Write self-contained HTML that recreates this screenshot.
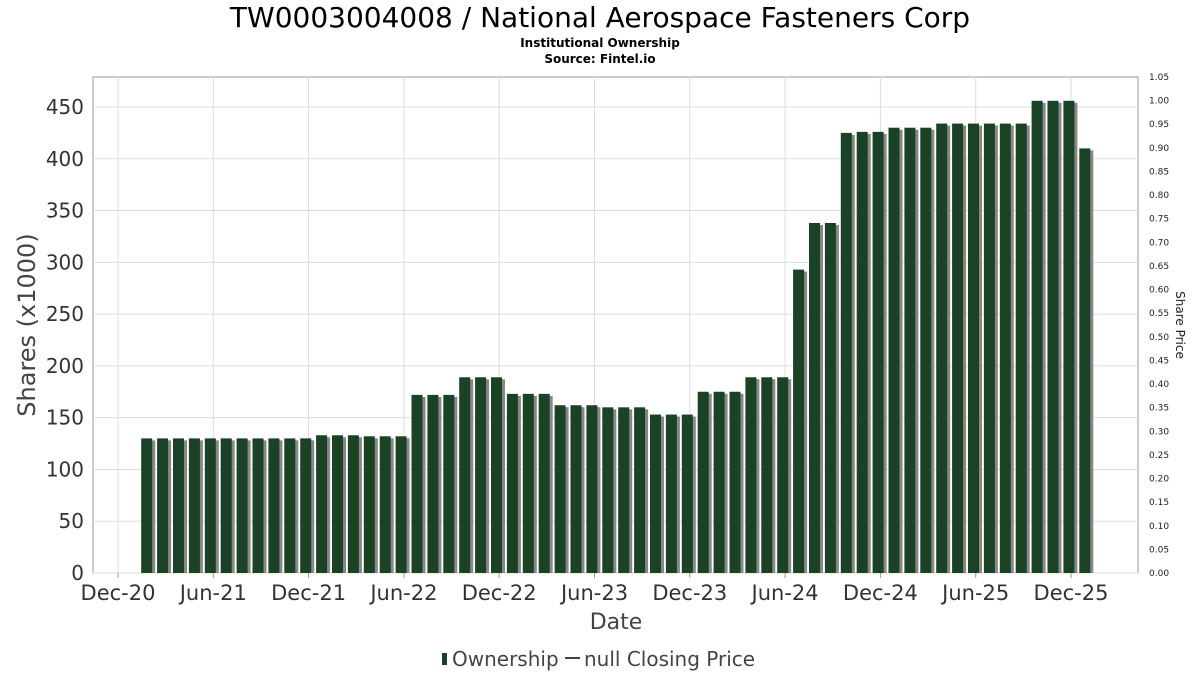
<!DOCTYPE html>
<html><head><meta charset="utf-8"><style>
body{margin:0;background:#fff;font-family:"DejaVu Sans","Liberation Sans",sans-serif}
svg{display:block}
</style></head><body>
<svg width="1200" height="675" id="c">
<text x="600" y="27" text-anchor="middle" font-size="28" fill="#000">TW0003004008 / National Aerospace Fasteners Corp</text>
<text x="600" y="47" text-anchor="middle" font-size="12" font-weight="bold">Institutional Ownership</text>
<text x="600" y="63" text-anchor="middle" font-size="12" font-weight="bold">Source: Fintel.io</text>
<rect x="93" y="77" width="1045" height="496" fill="#fff" stroke="#999"/>
<g id="grid"></g><g id="bars"></g><g id="axes"></g>
<text transform="translate(35,325) rotate(-90)" text-anchor="middle" font-size="24" fill="#444">Shares (x1000)</text>
<text transform="translate(1176,325) rotate(90)" text-anchor="middle" font-size="12" fill="#222">Share Price</text>
<text x="616" y="629" text-anchor="middle" font-size="22" fill="#444">Date</text>
<g>
<rect x="442" y="653" width="5" height="12" fill="#1a4224"/>
<text x="452" y="666" font-size="20" fill="#444">Ownership</text>
<line x1="565" y1="658" x2="580" y2="658" stroke="#444" stroke-width="2"/>
<text x="584" y="666" font-size="20" fill="#444">null Closing Price</text>
</g>
</svg>
<script>
const values=[130,130,130,130,130,130,130,130,130,130,130,133,133,133,132,132,132,172,172,172,189,189,189,173,173,173,162,162,162,160,160,160,153,153,153,175,175,175,189,189,189,293,338,338,425,426,426,430,430,430,434,434,434,434,434,434,456,456,456,410];
const yTicks=[0,50,100,150,200,250,300,350,400,450];
const xTickLabels=["Dec-20","Jun-21","Dec-21","Jun-22","Dec-22","Jun-23","Dec-23","Jun-24","Dec-24","Jun-25","Dec-25"];
const priceTicks=[0,0.05,0.1,0.15,0.2,0.25,0.3,0.35,0.4,0.45,0.5,0.55,0.6,0.65,0.7,0.75,0.8,0.85,0.9,0.95,1.0,1.05];
const NS="http://www.w3.org/2000/svg";
const y=v=>573-v*466/450;
const yp=v=>573-v*496/1.05;
const xb=i=>146.7+i*15.9;
const xt=i=>118+i*95.3;
function mk(t,a,p){const e=document.createElementNS(NS,t);for(const k in a)e.setAttribute(k,a[k]);p.appendChild(e);return e;}
const g=document.getElementById('grid'),b=document.getElementById('bars'),ax=document.getElementById('axes');
yTicks.forEach(v=>{
 const l=mk('line',{x1:93,x2:1138,y1:y(v),y2:y(v),stroke:'#ddd'},g);
 
 
 const t=mk('text',{x:84,y:y(v)+7,'text-anchor':'end','font-size':20,fill:'#333'},ax);t.textContent=v;
 
 
});
xTickLabels.forEach((s,i)=>{
 const l=mk('line',{x1:xt(i),x2:xt(i),y1:77,y2:573,stroke:'#ddd'},g);
 
 
 mk('line',{x1:xt(i),x2:xt(i),y1:573,y2:578,stroke:'#999'},ax);
 const t=mk('text',{x:xt(i),y:600,'text-anchor':'middle','font-size':21,fill:'#333'},ax);t.textContent=s;
 
 
});
priceTicks.forEach(v=>{
 const t=mk('text',{x:1149,y:yp(v)+3,'font-size':9,fill:'#222'},ax);t.textContent=v.toFixed(2);
 
 
});
values.forEach((v,i)=>{
 const x=xb(i)-5.5;
 const s=mk('rect',{x:x+3,y:y(v)+2,width:11,height:573-y(v)-2,fill:'#888'},b);
 
 
 const r=mk('rect',{x:x,y:y(v),width:11,height:573-y(v),fill:'#1a4224'},b);
 
 
});
</script>
</body></html>
